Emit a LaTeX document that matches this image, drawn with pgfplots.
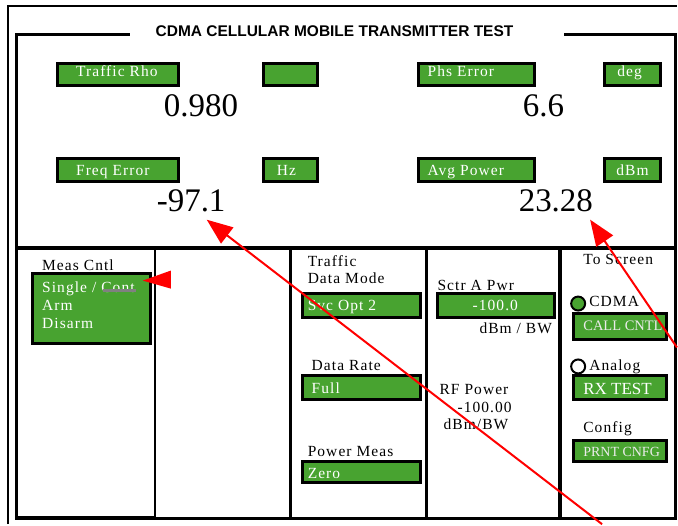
\documentclass[border=0pt]{standalone}
\usepackage{pgfplots}
\pgfplotsset{compat=1.18}
\usetikzlibrary{arrows.meta}
\usepackage{fontspec}
\setmainfont{Liberation Serif}[LetterSpace=7]
\newfontfamily\plainserif{Liberation Serif}
\newfontfamily\titlefont{Liberation Sans}
\definecolor{cg}{RGB}{72,163,48}
\newcommand{\fs}[1]{\fontsize{#1}{#1}\selectfont}
\newcommand{\gbox}[4]{\addplot[fill=cg, draw=black, line width=3pt, line join=miter] coordinates {(#1,#2) (#3,#2) (#3,#4) (#1,#4) (#1,#2) (#3,#2)};}
\newcommand{\lt}[4]{\node[anchor=base west,inner sep=0pt,font=\fs{15.5},text=#1] at (axis cs:#2,#3) {#4};}
\newcommand{\num}[4]{\node[anchor=base #1,inner sep=0pt,font=\plainserif\fs{33}] at (axis cs:#2,#3) {#4};}
\begin{document}
\begin{tikzpicture}
\begin{axis}[x=1pt, y=1pt, y dir=reverse, xmin=0, xmax=678, ymin=0, ymax=525,
  hide axis, scale only axis, clip=false]
% background
\addplot[fill=white, draw=none] coordinates {(0,0) (678,0) (678,525) (0,525)};
% outer frame
\addplot[draw=black, line width=2pt] coordinates {(8,525) (8,6) (678,6)};
% inner frame
\addplot[draw=black, line width=3pt, line join=miter] coordinates {(130,35) (17,35) (17,519) (676.5,519) (676.5,35) (565,35)};
\addplot[draw=black, line width=4pt] coordinates {(17,248) (676.5,248)};
\addplot[draw=black, line width=4pt] coordinates {(17,519) (155,519)};
\addplot[draw=black, line width=2.5pt] coordinates {(155,248) (155,519)};
\addplot[draw=black, line width=2.5pt] coordinates {(291,248) (291,519)};
\addplot[draw=black, line width=2.5pt] coordinates {(427,248) (427,519)};
\addplot[draw=black, line width=4pt] coordinates {(561,248) (561,519)};
% title
\node[anchor=base, inner sep=0pt, font=\titlefont\bfseries\fs{15.5}] at (axis cs:335,37) {CDMA CELLULAR MOBILE TRANSMITTER TEST};
% top green boxes
\gbox{58}{64}{179}{86}
\gbox{264}{64}{318}{86}
\gbox{419}{64}{535}{86}
\gbox{605}{64}{661}{86}
\gbox{58}{159}{179}{182}
\gbox{264}{159}{318}{182}
\gbox{419}{159}{535}{182}
\gbox{605}{159}{661}{182}
\lt{white}{76}{77}{Traffic Rho}
\lt{white}{428}{77}{Phs Error}
\lt{white}{618}{77}{deg}
\lt{white}{76}{176}{Freq Error}
\lt{white}{277}{176}{Hz}
\lt{white}{428}{176}{Avg Power}
\lt{white}{617}{176}{dBm}
% big readings
\num{west}{164}{117}{0.980}
\num{east}{565}{117}{6.6}
\num{east}{226}{212}{-97.1}
\num{east}{594}{212}{23.28}
% bottom section
\lt{black}{42}{271}{Meas Cntl}
\gbox{33}{274}{151}{344}
\lt{white}{42}{293}{Single / Cont}
\lt{white}{42}{311}{Arm}
\lt{white}{42}{329}{Disarm}
\addplot[draw=gray, line width=3pt] coordinates {(103,291) (136,291)};
\lt{black}{308}{267}{Traffic}
\lt{black}{308}{284}{Data Mode}
\gbox{303}{294}{421}{318}
\lt{white}{308}{311}{Svc Opt 2}
\lt{black}{312}{371}{Data Rate}
\gbox{303}{376}{421}{400}
\lt{white}{312}{394}{Full}
\lt{black}{308}{457}{Power Meas}
\gbox{303}{462}{421}{483}
\lt{white}{308}{479}{Zero}
\lt{black}{438}{291}{Sctr A Pwr}
\gbox{438}{294}{555}{318}
\node[anchor=base, inner sep=0pt, font=\fs{15.5}, text=white] at (axis cs:496,311) {-100.0};
\node[anchor=base east, inner sep=0pt, font=\fs{15.5}] at (axis cs:553,334) {dBm / BW};
\lt{black}{440}{395}{RF Power}
\lt{black}{458}{413}{-100.00}
\lt{black}{444}{430}{dBm/BW}
\lt{black}{584}{265}{To Screen}
\addplot[only marks, mark=*, mark size=7pt, mark options={fill=cg, draw=black, line width=2pt}] coordinates {(579,304)};
\lt{black}{590}{307}{CDMA}
\gbox{574}{314}{667}{340}
\node[anchor=base west, inner sep=0pt, font=\plainserif\fs{14.5}, text=white!92!black] at (axis cs:584,331) {CALL CNTL};
\addplot[only marks, mark=*, mark size=7pt, mark options={fill=white, draw=black, line width=2pt}] coordinates {(579,367)};
\lt{black}{590}{371}{Analog}
\gbox{574}{376}{667}{400}
\node[anchor=base west, inner sep=0pt, font=\plainserif\fs{17}, text=white] at (axis cs:584,395) {RX TEST};
\lt{black}{584}{433}{Config}
\gbox{574}{441}{667}{462}
\node[anchor=base west, inner sep=0pt, font=\plainserif\fs{14}, text=white!92!black] at (axis cs:584,457) {PRNT CNFG};
% red annotations
\addplot[fill=red, draw=none] coordinates {(143,281) (171,271) (171,289)};
\addplot[draw=red, line width=2pt, -{Triangle[length=26pt,width=20pt]}] coordinates {(603,525) (207,220)};
\addplot[draw=red, line width=2pt, -{Triangle[length=26pt,width=20pt]}] coordinates {(678,348) (591,220)};
\end{axis}
\end{tikzpicture}
\end{document}
